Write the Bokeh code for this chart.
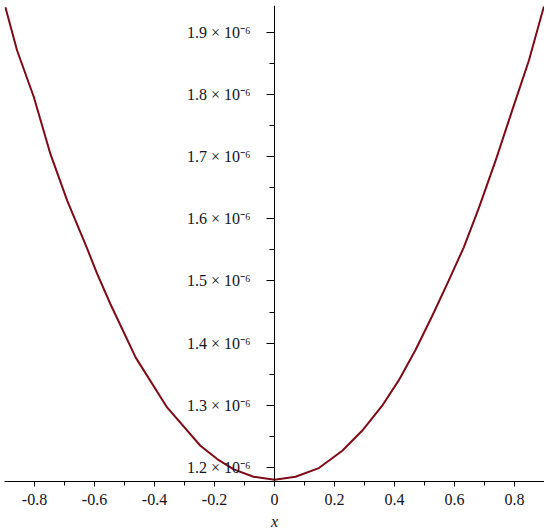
from bokeh.plotting import figure
from bokeh.models import Range1d, FixedTicker, CustomJSTickFormatter
from bokeh.embed import file_html
from bokeh.resources import INLINE

# curve samples (x, y)
x_vals = [-0.897, -0.858, -0.802, -0.747, -0.691, -0.624, -0.591, -0.547,
          -0.463, -0.358, -0.247, -0.191, -0.136, -0.07, 0.0, 0.07, 0.148,
          0.226, 0.292, 0.359, 0.414, 0.47, 0.526, 0.581, 0.631, 0.681,
          0.737, 0.792, 0.848, 0.898]
y_vals = [1.9402e-6, 1.8706e-6, 1.7954e-6, 1.7043e-6, 1.6292e-6, 1.5514e-6,
          1.5112e-6, 1.4629e-6, 1.3770e-6, 1.2965e-6, 1.2349e-6, 1.2135e-6,
          1.1970e-6, 1.1850e-6, 1.1802e-6, 1.1850e-6, 1.1990e-6, 1.2269e-6,
          1.2590e-6, 1.2993e-6, 1.3400e-6, 1.3890e-6, 1.4440e-6, 1.5010e-6,
          1.5540e-6, 1.6170e-6, 1.6935e-6, 1.7740e-6, 1.8545e-6, 1.9414e-6]

x_major = [-0.8, -0.6, -0.4, -0.2, 0.0, 0.2, 0.4, 0.6, 0.8]
x_minor = [-0.7, -0.5, -0.3, -0.1, 0.1, 0.3, 0.5, 0.7]
y_major = [1.2e-6, 1.3e-6, 1.4e-6, 1.5e-6, 1.6e-6, 1.7e-6, 1.8e-6, 1.9e-6]
y_minor = [1.25e-6, 1.35e-6, 1.45e-6, 1.55e-6, 1.65e-6, 1.75e-6, 1.85e-6]

x_start, x_end = -0.9, 0.9
y_start, y_end = 1.1774e-6, 1.9430e-6

FONT = "Liberation Serif"
LINE_COLOR = "#7d0a16"
TEXT_COLOR = "#111122"

p = figure(
    output_backend="svg",
    toolbar_location=None,
    frame_width=540,
    frame_height=476,
    x_range=Range1d(x_start, x_end),
    y_range=Range1d(y_start, y_end),
    min_border_left=4,
    min_border_right=0,
    min_border_top=5,
    min_border_bottom=0,
)
p.outline_line_color = None
p.xgrid.visible = False
p.ygrid.visible = False
p.background_fill_color = "white"
p.border_fill_color = "white"

p.line(x_vals, y_vals, line_color=LINE_COLOR, line_width=2, line_join="round")

# x axis
xa = p.xaxis[0]
xa.ticker = FixedTicker(ticks=x_major, minor_ticks=x_minor)
xa.formatter = CustomJSTickFormatter(code="""
    if (Math.abs(tick) < 1e-9) { return "0"; }
    return tick.toFixed(1);
""")
xa.axis_line_color = "#000000"
xa.major_tick_line_color = "#000000"
xa.minor_tick_line_color = "#000000"
xa.major_tick_in = 0
xa.major_tick_out = 5
xa.minor_tick_in = 0
xa.minor_tick_out = 4
xa.major_label_text_font = FONT
xa.major_label_text_font_size = "16px"
xa.major_label_text_color = TEXT_COLOR
xa.major_label_standoff = 7
xa.axis_label = "x"
xa.axis_label_text_font = FONT
xa.axis_label_text_font_size = "16px"
xa.axis_label_text_font_style = "italic"
xa.axis_label_text_color = TEXT_COLOR
xa.axis_label_standoff = 5

# y axis at x = 0
ya = p.yaxis[0]
ya.fixed_location = 0
ya.ticker = FixedTicker(ticks=y_major, minor_ticks=y_minor)
ya.formatter = CustomJSTickFormatter(code="""
    return (tick * 1e6).toFixed(1) + " \u00d7 10\u207b\u2076";
""")
ya.axis_line_color = "#000000"
ya.major_tick_line_color = "#000000"
ya.minor_tick_line_color = "#000000"
ya.major_tick_in = 0
ya.major_tick_out = 8
ya.minor_tick_in = 0
ya.minor_tick_out = 5
ya.major_label_text_font = FONT
ya.major_label_text_font_size = "16px"
ya.major_label_text_color = TEXT_COLOR
ya.major_label_standoff = 16

open("out.html", "w").write(file_html(p, INLINE))
